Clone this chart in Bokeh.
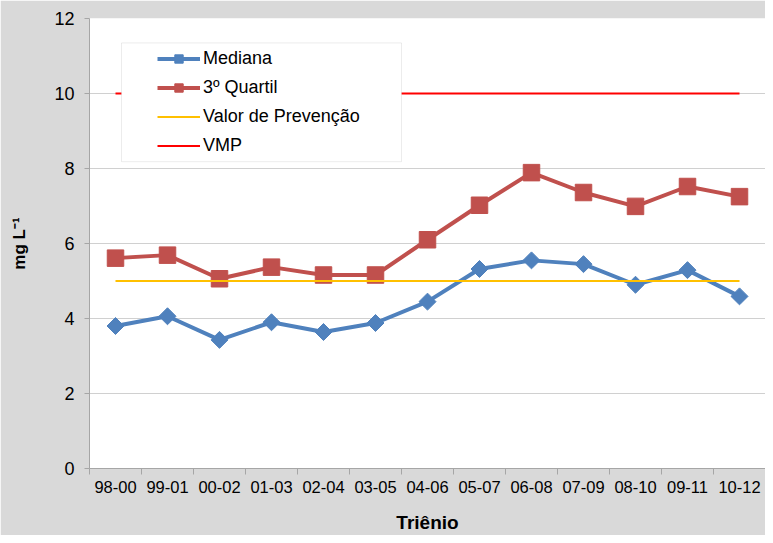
import math
from bokeh.plotting import figure
from bokeh.models import (FixedTicker, Legend, LegendItem, BoxAnnotation, Range1d)
from bokeh.embed import file_html
from bokeh.resources import INLINE

# ---- data ----
trienios = ["98-00", "99-01", "00-02", "01-03", "02-04", "03-05", "04-06",
            "05-07", "06-08", "07-09", "08-10", "09-11", "10-12"]
mediana = [3.80, 4.06, 3.43, 3.90, 3.64, 3.88, 4.45, 5.32, 5.55, 5.45, 4.90, 5.29, 4.59]
quartil3 = [5.61, 5.69, 5.06, 5.37, 5.16, 5.16, 6.10, 7.02, 7.89, 7.36, 6.99, 7.52, 7.25]
valor_prevencao = 5.0
vmp = 10.0
y_ticks = [0, 2, 4, 6, 8, 10, 12]

# ---- layout ----
W, H = 765, 535
ML, MR, MT, MB = 89, 0, 18, 66
FW, FH = W - ML - MR, H - MT - MB
n = len(trienios)
xs = [i + 0.5 for i in range(n)]

p = figure(width=W, height=H, output_backend="svg", toolbar_location=None,
           x_range=Range1d(0, n), y_range=Range1d(0, 12),
           min_border_left=ML, min_border_right=MR, min_border_top=MT,
           min_border_bottom=MB)
p.border_fill_color = "#d9d9d9"
p.background_fill_color = "white"
p.outline_line_color = None

# grid
p.xgrid.grid_line_color = None
p.ygrid.grid_line_color = "#d0d0d0"
p.ygrid.grid_line_width = 1
p.ygrid.ticker = FixedTicker(ticks=y_ticks)

# x axis: labels at centers, ticks between categories (minor ticks)
xax = p.xaxis[0]
xax.ticker = FixedTicker(ticks=xs, minor_ticks=list(range(n + 1)))
xax.major_label_overrides = {x: t for x, t in zip(xs, trienios)}
xax.major_tick_line_color = None
xax.major_tick_out = 0
xax.major_tick_in = 0
xax.minor_tick_line_color = "#a6a6a6"
xax.minor_tick_out = 6
xax.minor_tick_in = 0
xax.axis_line_color = "#a6a6a6"
xax.major_label_text_font = "Liberation Sans"
xax.major_label_text_font_size = "16.5px"
xax.major_label_text_color = "black"
xax.major_label_standoff = 6
xax.axis_label = "Triênio"
xax.axis_label_text_font = "Liberation Sans"
xax.axis_label_text_font_size = "19px"
xax.axis_label_text_font_style = "bold"
xax.axis_label_text_color = "black"
xax.axis_label_standoff = 16

# y axis
yax = p.yaxis[0]
yax.ticker = FixedTicker(ticks=y_ticks)
yax.minor_tick_line_color = None
yax.major_tick_line_color = "#a6a6a6"
yax.major_tick_out = 5
yax.major_tick_in = 0
yax.axis_line_color = "#a6a6a6"
yax.major_label_text_font = "Liberation Sans"
yax.major_label_text_font_size = "18px"
yax.major_label_text_color = "black"
yax.major_label_standoff = 10
yax.axis_label = "mg L\u207b\u00b9"
yax.axis_label_text_font = "Liberation Sans"
yax.axis_label_text_font_size = "17px"
yax.axis_label_text_font_style = "bold"
yax.axis_label_text_color = "black"
yax.axis_label_standoff = 22

# series
BLUE = "#4f81bd"
RED = "#c0504d"
l_med = p.line(xs, mediana, line_color=BLUE, line_width=4)
s_med = p.scatter(xs, mediana, marker="square", angle=math.pi / 4, size=12,
                  fill_color=BLUE, line_color=BLUE)
l_q3 = p.line(xs, quartil3, line_color=RED, line_width=4)
s_q3 = p.scatter(xs, quartil3, marker="square", size=16.5,
                 fill_color=RED, line_color=RED)
l_vp = p.line([xs[0], xs[-1]], [valor_prevencao, valor_prevencao],
              line_color="#ffc000", line_width=2)
l_vmp = p.line([xs[0], xs[-1]], [vmp, vmp], line_color="#ff0000", line_width=2)

# legend box (pixel geometry converted to data units)
px_x = n / FW
px_y = 12 / FH
box = BoxAnnotation(left=32 * px_x, right=312 * px_x,
                    top=12 - 24.5 * px_y, bottom=12 - 143.5 * px_y,
                    fill_color="white", fill_alpha=1.0,
                    line_color="#bfbfbf", line_width=1)
p.add_layout(box)

legend = Legend(items=[
    LegendItem(label="Mediana", renderers=[l_med, s_med]),
    LegendItem(label="3º Quartil", renderers=[l_q3, s_q3]),
    LegendItem(label="Valor de Prevenção", renderers=[l_vp]),
    LegendItem(label="VMP", renderers=[l_vmp]),
], location=(68, FH - 30 - 4 * 21 - 3 * 8.2))
legend.padding = 0
legend.spacing = 8
legend.glyph_width = 43
legend.glyph_height = 21
legend.label_height = 21
legend.label_standoff = 3
legend.label_text_font = "Liberation Sans"
legend.label_text_font_size = "18px"
legend.label_text_color = "black"
legend.border_line_color = None
legend.background_fill_alpha = 0
p.add_layout(legend)

open("out.html", "w").write(file_html(p, INLINE))
